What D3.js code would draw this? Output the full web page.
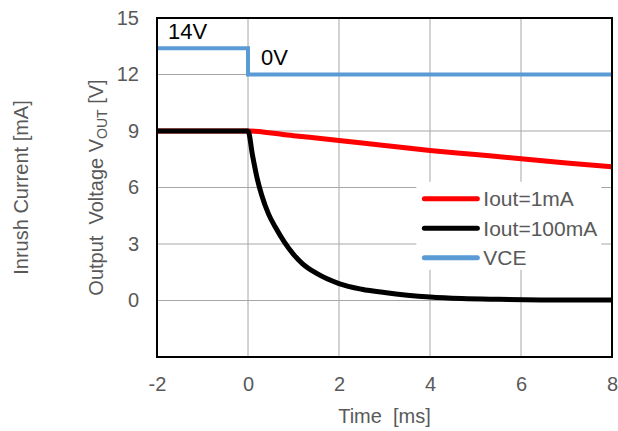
<!DOCTYPE html>
<html>
<head>
<meta charset="utf-8">
<script src="https://cdn.jsdelivr.net/npm/d3@7"></script>
<style>
  body { margin: 0; background: #fff; }
  text { font-family: "Liberation Sans", Arial, sans-serif; }
</style>
</head>
<body>
<div id="chart"></div>
<script>
// Data
const xTicks = [-2, 0, 2, 4, 6, 8];
const yTicks = [0, 3, 6, 9, 12, 15];

const iout1mA = [
  [-2, 9], [0, 9], [1, 8.75], [2, 8.5], [3, 8.23], [4, 7.97],
  [5, 7.75], [6, 7.53], [7, 7.3], [8, 7.1]
];
const iout100mA = [
  [-2, 9], [0, 9], [0.1, 7.7], [0.2, 6.5], [0.3, 5.6], [0.45, 4.6],
  [0.6, 3.9], [0.8, 3.1], [1.0, 2.45], [1.2, 1.95], [1.5, 1.45],
  [2, 0.9], [2.5, 0.6], [3, 0.42], [3.5, 0.28], [4, 0.18],
  [4.7, 0.1], [5.5, 0.06], [6.5, 0.03], [8, 0.02]
];
const vce = [[-2, 13.4], [0, 13.4], [0, 12], [8, 12]];

const seriesNames = ["Iout=1mA", "Iout=100mA", "VCE"];
const seriesColors = ["#ff0000", "#000000", "#5b9bd5"];

// Layout
const W = 618, H = 431;
const margin = { top: 18, right: 6, bottom: 74, left: 157 };
const width = W - margin.left - margin.right;
const height = H - margin.top - margin.bottom;

const svg = d3.select("#chart").append("svg")
  .attr("width", W).attr("height", H);

const g = svg.append("g")
  .attr("transform", `translate(${margin.left},${margin.top})`);

const x = d3.scaleLinear().domain([-2, 8]).range([0, width]);
const y = d3.scaleLinear().domain([-3, 15]).range([height, 0]);

// Gridlines
g.selectAll(".xgrid")
  .data(xTicks.slice(1, -1))
  .join("line")
  .attr("x1", d => x(d)).attr("x2", d => x(d))
  .attr("y1", 0).attr("y2", height)
  .attr("stroke", "#a6a6a6").attr("stroke-width", 1);

g.selectAll(".ygrid")
  .data(yTicks.slice(0, -1))
  .join("line")
  .attr("x1", 0).attr("x2", width)
  .attr("y1", d => y(d)).attr("y2", d => y(d))
  .attr("stroke", "#a6a6a6").attr("stroke-width", 1);

// Axes (labels only), plain hyphen for negatives
const xAxis = g.append("g")
  .attr("transform", `translate(0,${height})`)
  .call(d3.axisBottom(x).tickValues(xTicks).tickFormat(d => String(d))
    .tickSize(0).tickPadding(20));
const yAxis = g.append("g")
  .call(d3.axisLeft(y).tickValues(yTicks).tickFormat(d => String(d))
    .tickSize(0).tickPadding(18));
[xAxis, yAxis].forEach(a => {
  a.select(".domain").remove();
  a.selectAll(".tick text")
    .attr("fill", "#595959")
    .style("font-size", "20px")
    .style("font-family", "'Liberation Sans', Arial, sans-serif");
});

// Lines
const line = d3.line()
  .x(d => x(d[0]))
  .y(d => y(d[1]));

g.append("path").datum(vce)
  .attr("fill", "none").attr("stroke", seriesColors[2])
  .attr("stroke-width", 4)
  .attr("d", line);

g.append("path").datum(iout1mA)
  .attr("fill", "none").attr("stroke", seriesColors[0])
  .attr("stroke-width", 5)
  .attr("d", line.curve(d3.curveMonotoneX));

g.append("path").datum(iout100mA)
  .attr("fill", "none").attr("stroke", seriesColors[1])
  .attr("stroke-width", 5)
  .attr("d", line.curve(d3.curveMonotoneX));

// Frame
g.append("rect")
  .attr("width", width).attr("height", height)
  .attr("fill", "none").attr("stroke", "#000").attr("stroke-width", 2);

// Annotations
g.append("text")
  .attr("x", x(-2) + 11).attr("y", y(13.4) - 9)
  .attr("fill", "#000").style("font-size", "22px")
  .text("14V");
g.append("text")
  .attr("x", x(0) + 13).attr("y", y(12) - 10)
  .attr("fill", "#000").style("font-size", "22px")
  .text("0V");

// Legend
const legend = g.append("g")
  .attr("transform", `translate(${x(3.7)},${y(6.3)})`);
legend.append("rect")
  .attr("width", 185).attr("height", 88)
  .attr("fill", "#fff");
seriesNames.forEach((name, i) => {
  const row = legend.append("g")
    .attr("transform", `translate(0,${17 + i * 29.5})`);
  row.append("line")
    .attr("x1", 8).attr("x2", 61)
    .attr("stroke", seriesColors[i])
    .attr("stroke-width", 5)
    .attr("stroke-linecap", "round");
  row.append("text")
    .attr("x", 67).attr("dy", "0.35em")
    .attr("fill", "#595959").style("font-size", "21px")
    .text(name);
});

// Axis titles
svg.append("text")
  .attr("x", margin.left + width / 2).attr("y", 423)
  .attr("text-anchor", "middle")
  .attr("fill", "#595959").style("font-size", "20px")
  .text("Time\u00a0\u00a0[ms]");

const vTitle = svg.append("text")
  .attr("transform", `translate(103,${margin.top + height / 2}) rotate(-90)`)
  .attr("text-anchor", "middle")
  .attr("fill", "#595959").style("font-size", "20px");
vTitle.append("tspan").text("Output\u00a0\u00a0Voltage V");
vTitle.append("tspan").attr("dy", 4).style("font-size", "14px").text("OUT");
vTitle.append("tspan").attr("dy", -4).text(" [V]");

svg.append("text")
  .attr("transform", `translate(28,${margin.top + height / 2}) rotate(-90)`)
  .attr("text-anchor", "middle")
  .attr("fill", "#595959").style("font-size", "20px")
  .text("Inrush Current [mA]");
</script>
</body>
</html>
